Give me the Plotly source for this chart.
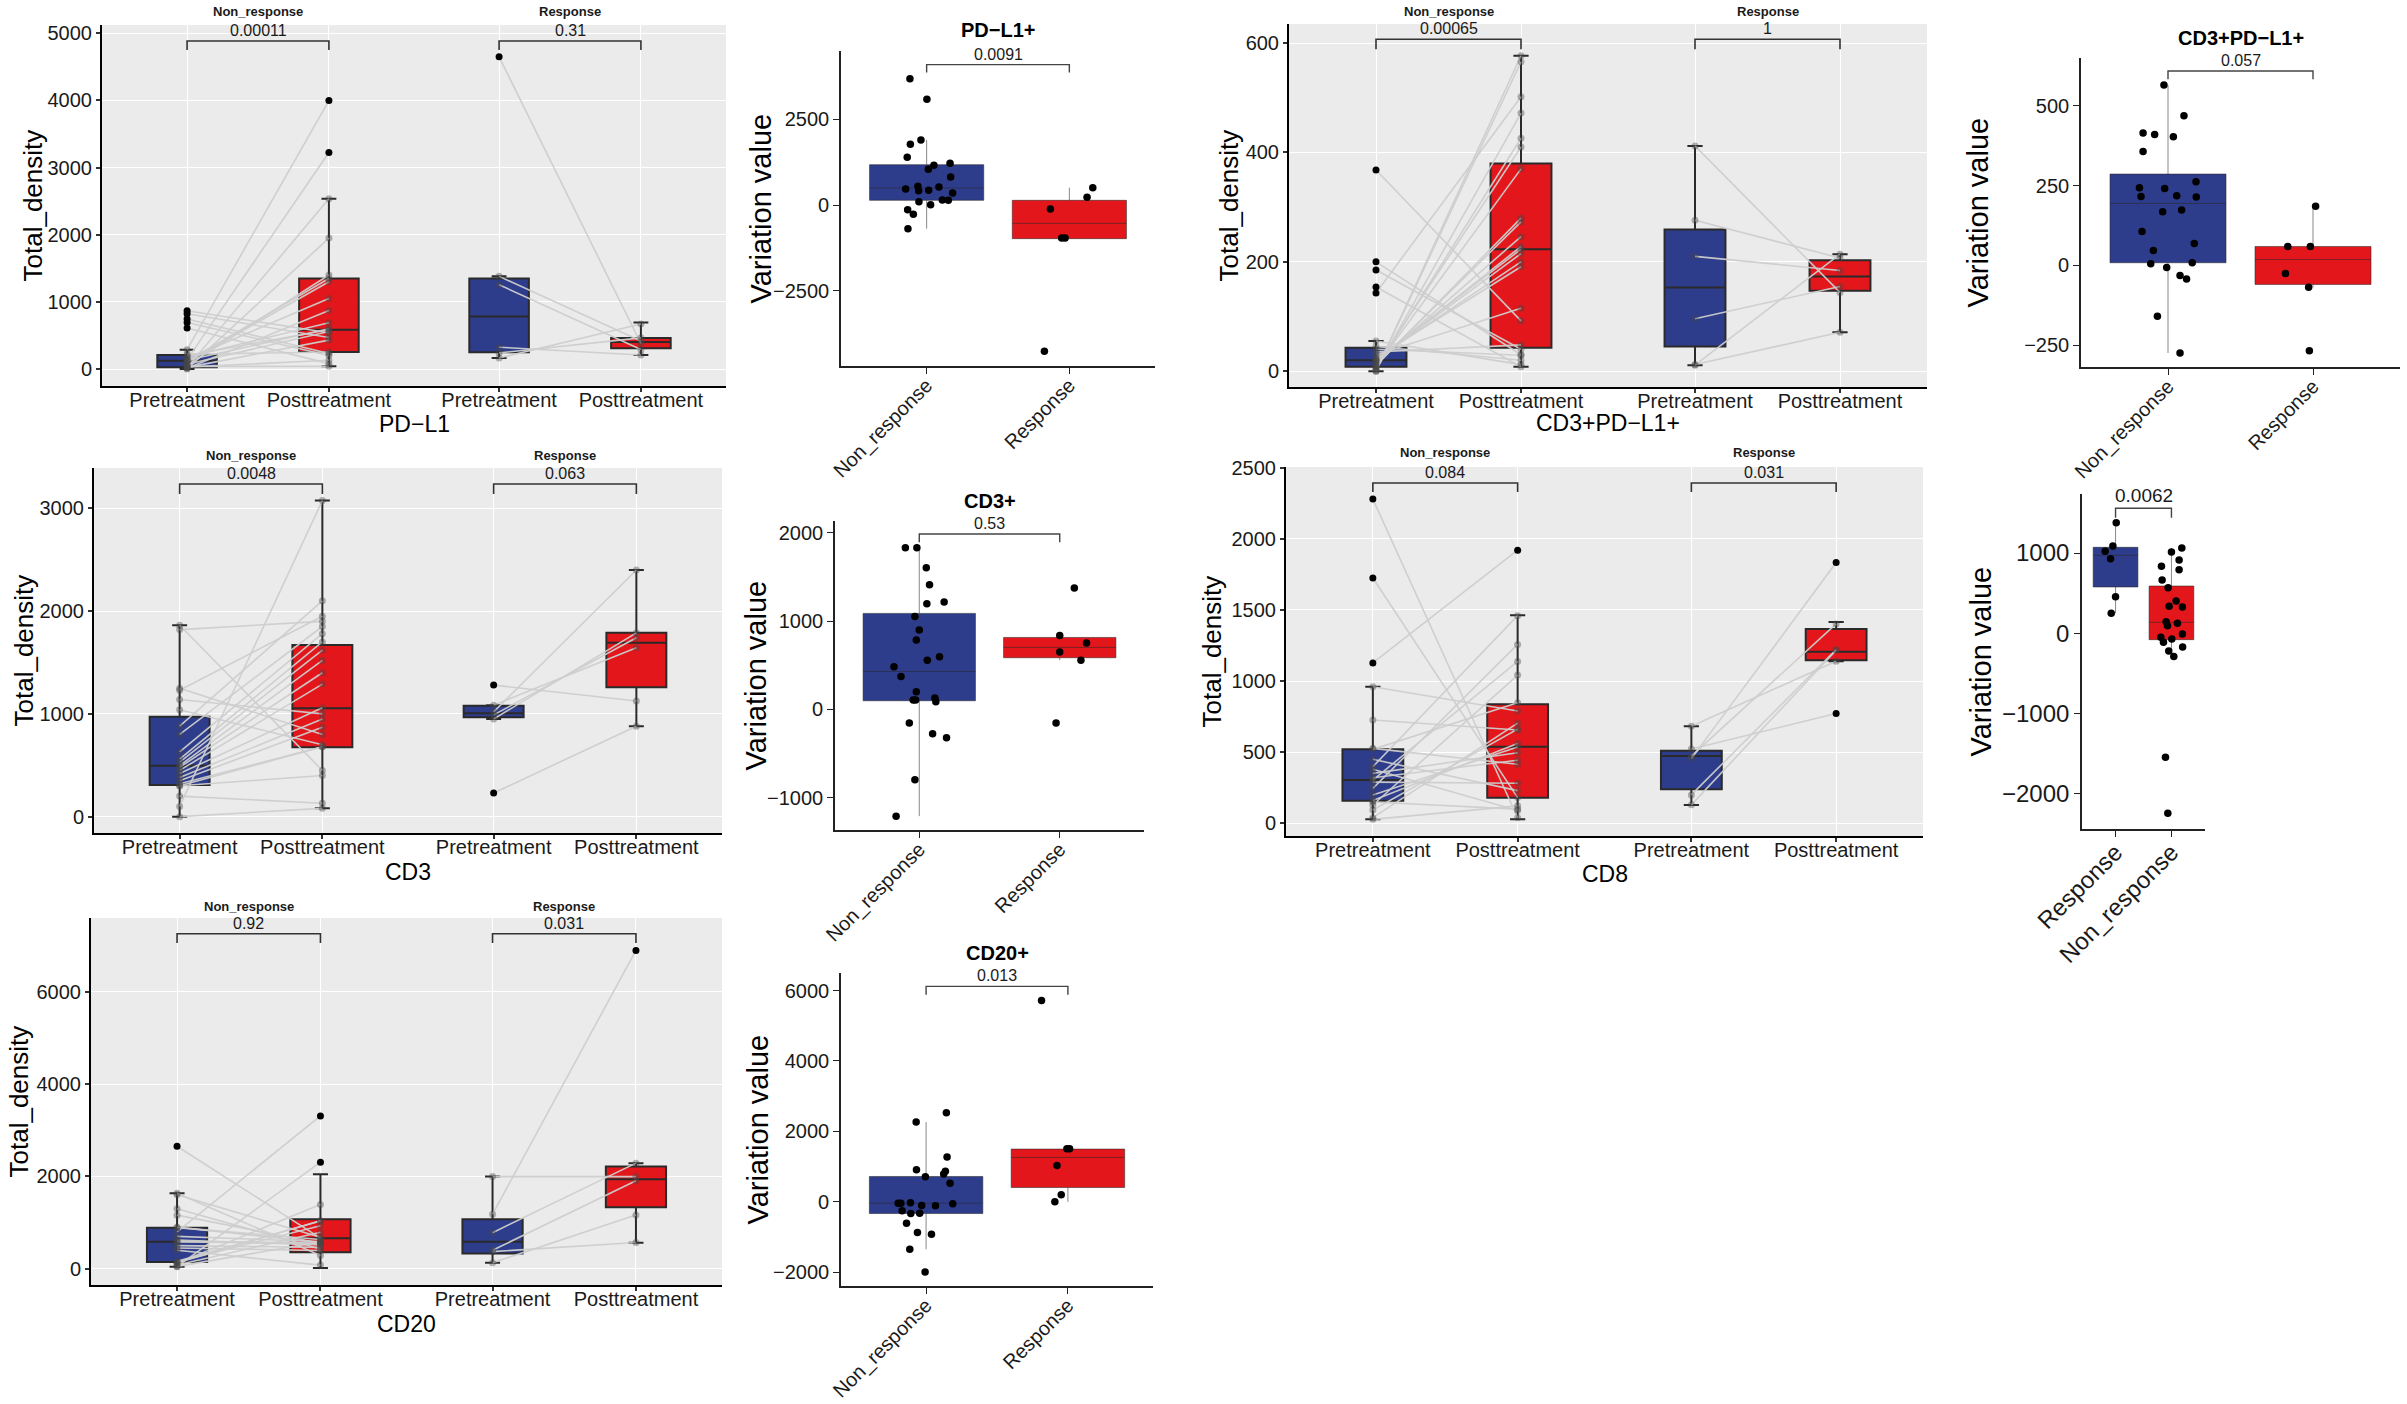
import plotly.graph_objects as go

W, H = 2407, 1404
BLUE = "#2E3C8C"
RED = "#E3171B"
FONT = "Liberation Sans, Arial, Helvetica, sans-serif"

# ------------------------------------------------------------------ data
timepoints = ["Pretreatment", "Posttreatment"]
facet_groups = ["Non_response", "Response"]
var_categories = ["Non_response", "Response"]
cd8_var_categories = ["Response", "Non_response"]

# PD-L1 paired (Total_density)
pdl1_nr_pre = [288, 140, 20, 0, 50, 115, 100, 150, 10, 180, 130, 200, 70, 868, 823, 25, 220, 744, 694, 30, 610, 40]
pdl1_nr_post = [3998, 3224, 2535, 1950, 1400, 1349, 1300, 1050, 870, 690, 600, 585, 560, 540, 470, 430, 253, 230, 200, 130, 80, 40]
pdl1_r_pre = [4650, 1380, 1255, 325, 240, 164]
pdl1_r_post = [380, 417, 292, 208, 464, 670]
# box stats: [lower whisker, q1, median, q3, upper whisker]
pdl1_nr_pre_box = [0, 25, 124, 208, 288]
pdl1_nr_post_box = [40, 253, 585, 1349, 2535]
pdl1_r_pre_box = [164, 248, 784, 1349, 1380]
pdl1_r_post_box = [208, 308, 402, 461, 694]
pdl1_pvals = ["0.00011", "0.31"]
pdl1_bracket = [4751, 4885]

# CD3+PD-L1+ paired
cd3pdl1_nr_pre = [368, 200, 185, 154, 143, 0, 0, 2, 5, 8, 8, 10, 12, 15, 18, 20, 20, 22, 25, 30, 35, 40, 45, 55]
cd3pdl1_nr_post = [92, 30, 40, 8, 502, 577, 566, 472, 426, 410, 370, 280, 273, 246, 228, 223, 215, 200, 191, 115, 48, 29, 20, 12]
cd3pdl1_r_pre = [412, 276, 210, 96, 11, 12]
cd3pdl1_r_post = [144, 207, 184, 155, 214, 71]
cd3pdl1_nr_pre_box = [0, 8, 20, 43, 55]
cd3pdl1_nr_post_box = [8, 43, 223, 380, 577]
cd3pdl1_r_pre_box = [11, 45, 153, 259, 412]
cd3pdl1_r_post_box = [71, 147, 173, 203, 214]
cd3pdl1_pvals = ["0.00065", "1"]
cd3pdl1_bracket = [589, 607]

# CD3 paired
cd3_nr_pre = [100, 1862, 1820, 1250, 1230, 1140, 1040, 880, 800, 630, 560, 530, 496, 480, 450, 420, 380, 350, 320, 300, 300, 200, 0]
cd3_nr_post = [3075, 450, 1900, 800, 1950, 1000, 700, 2100, 1850, 1780, 1700, 1620, 1520, 1400, 1290, 1060, 950, 870, 680, 680, 400, 130, 81]
cd3_r_pre = [1280, 230, 950, 990, 1020, 1085]
cd3_r_post = [1125, 880, 1788, 1741, 2400, 1643]
cd3_nr_pre_box = [0, 308, 496, 973, 1862]
cd3_nr_post_box = [81, 675, 1054, 1670, 3075]
cd3_r_pre_box = [950, 967, 1005, 1080, 1085]
cd3_r_post_box = [880, 1258, 1693, 1790, 2400]
cd3_pvals = ["0.0048", "0.063"]
cd3_bracket = [3139, 3236]

# CD8 paired
cd8_nr_pre = [2280, 1725, 1128, 960, 726, 398, 246, 129, 304, 40, 94, 160, 200, 520, 351, 320, 290, 150, 380, 450, 28, 527]
cd8_nr_post = [39, 181, 1920, 790, 656, 1460, 1258, 1042, 1138, 704, 662, 562, 536, 848, 496, 444, 282, 100, 90, 230, 123, 415]
cd8_r_pre = [455, 130, 523, 683, 473, 200]
cd8_r_post = [1833, 1217, 772, 1139, 1402, 1221]
cd8_nr_pre_box = [28, 159, 304, 520, 960]
cd8_nr_post_box = [28, 180, 538, 838, 1463]
cd8_r_pre_box = [129, 239, 473, 510, 683]
cd8_r_post_box = [1139, 1147, 1206, 1367, 1416]
cd8_pvals = ["0.084", "0.031"]
cd8_bracket = [2329, 2392]

# CD20 paired
cd20_nr_pre = [2653, 1633, 1600, 1300, 1160, 900, 889, 800, 700, 620, 585, 585, 500, 450, 400, 43, 120, 130, 160, 145, 80, 50]
cd20_nr_post = [662, 287, 681, 428, 553, 568, 633, 3310, 586, 516, 557, 547, 462, 393, 78, 2308, 1390, 1040, 1032, 932, 791, 581]
cd20_r_pre = [1180, 1995, 780, 400, 130, 370]
cd20_r_post = [6896, 1995, 2287, 1907, 1163, 569]
cd20_nr_pre_box = [43, 145, 585, 889, 1633]
cd20_nr_post_box = [14, 354, 658, 1070, 2046]
cd20_r_pre_box = [130, 332, 585, 1070, 1995]
cd20_r_post_box = [564, 1330, 1937, 2212, 2287]
cd20_pvals = ["0.92", "0.031"]
cd20_bracket = [7056, 7258]

# Variation values (post - pre) with jitter offsets
pdl1v_nr = [3687, 3084, 1897, 1770, 1391, 1216, 1158, 1041, 817, 525, 545, 467, 428, 418, 350, 146, 136, 97, 10, -136, -272, -691]
pdl1v_nr_jit = [-0.117, 0.002, -0.04, -0.114, -0.136, 0.164, 0.051, 0.012, 0.168, 0.086, -0.061, -0.147, 0.014, -0.056, 0.182, 0.11, 0.152, -0.054, 0.028, -0.133, -0.093, -0.131]
pdl1v_r = [506, 224, -117, -963, -963, -4270]
pdl1v_r_jit = [0.164, 0.124, -0.133, -0.054, -0.03, -0.175]
pdl1v_nr_box = [-691, 136, 496, 1177, 1897]
pdl1v_r_box = [-982, -982, -535, 136, 506]
pdl1v_pval = "0.0091"
pdl1v_bracket = [3863, 4097]

cd3pdl1v_nr = [565, 469, 415, 410, 403, 357, 262, 243, 241, 218, 216, 214, 173, 168, 106, 68, 46, 8, 5, -7, -32, -43, -160, -275]
cd3pdl1v_nr_jit = [-0.028, 0.11, -0.172, -0.092, 0.037, -0.172, 0.193, -0.197, -0.023, 0.06, -0.186, 0.195, 0.094, -0.037, -0.179, 0.181, -0.101, 0.167, -0.119, -0.009, 0.083, 0.128, -0.073, 0.083]
cd3pdl1v_r = [185, 59, 59, -26, -69, -268]
cd3pdl1v_r_jit = [0.018, -0.174, -0.018, -0.19, -0.03, -0.025]
cd3pdl1v_nr_box = [-275, 8, 194, 286, 565]
cd3pdl1v_r_box = [-69, -60, 18, 59, 185]
cd3pdl1v_pval = "0.057"
cd3pdl1v_bracket = [583, 609]

cd3v_nr = [1830, 1830, 1604, 1411, 1196, 1215, 1053, 898, 785, 596, 558, 483, 374, 200, 128, 106, 106, 87, -155, -275, -321, -796, -1208]
cd3v_nr_jit = [-0.099, -0.017, 0.05, 0.073, 0.054, 0.177, -0.031, 0.0, -0.021, 0.144, 0.057, -0.18, -0.13, -0.021, 0.111, -0.043, -0.026, 0.118, -0.071, 0.095, 0.194, -0.031, -0.165]
cd3v_r = [1374, 838, 751, 649, 558, -155]
cd3v_r_jit = [0.104, 0.0, 0.191, 0.0, 0.151, -0.026]
cd3v_nr_box = [-1208, 98, 430, 1087, 1830]
cd3v_r_box = [558, 585, 702, 815, 838]
cd3v_pval = "0.53"
cd3v_bracket = [1893, 1986]

cd8v_r = [1378, 1087, 1021, 929, 456, 249]
cd8v_r_jit = [0.012, -0.048, -0.185, -0.089, 0.0, -0.077]
cd8v_nr = [1062, 1012, 913, 834, 793, 664, 568, 402, 336, 328, 145, 124, 95, -8, -50, -71, -112, -170, -220, -290, -1544, -2241]
cd8v_nr_jit = [0.185, 0.0, 0.137, -0.179, 0.137, -0.167, -0.06, 0.083, -0.042, 0.196, -0.095, 0.107, -0.071, 0.196, -0.19, 0.006, -0.143, 0.2, -0.048, 0.042, -0.107, -0.065]
cd8v_r_box = [249, 577, 971, 1071, 1378]
cd8v_nr_box = [-290, -79, 137, 589, 1062]
cd8v_pval = "0.0062"
cd8v_bracket = [1440, 1557]

cd20v_nr = [2531, 2265, 1270, 910, 872, 787, 711, 531, -28, -38, -38, -57, -114, -104, -256, -322, -332, -607, -872, -919, -1346, -1991]
cd20v_nr_jit = [0.143, -0.07, 0.148, -0.068, 0.136, 0.124, -0.005, 0.169, -0.11, -0.197, -0.178, 0.188, 0.066, -0.031, -0.169, -0.045, -0.108, -0.138, -0.061, 0.038, -0.115, -0.007]
cd20v_r = [5716, 1507, 1507, 1033, 199, 0]
cd20v_r_jit = [-0.186, -0.007, 0.012, -0.077, -0.047, -0.092]
cd20v_nr_box = [-1346, -332, -38, 720, 2265]
cd20v_r_box = [0, 408, 1261, 1498, 1507]
cd20v_pval = "0.013"
cd20v_bracket = [5880, 6117]

# ------------------------------------------------------------------ helpers
fig = go.Figure()
axes = {}
annotations = []
shapes = []
line_traces = []
point_traces = []


def dom_x(a, b):
    return [a / W, b / W]


def dom_y(top, bottom):
    return [1 - bottom / H, 1 - top / H]


def axnames(n):
    s = "" if n == 1 else str(n)
    return "x" + s, "y" + s, "xaxis" + s, "yaxis" + s


PAIR_POS = [1.0, 2.0, 3.2, 4.2]


def add_paired(n, series, boxes, pvals, bracket, xd, yd, yrange, yticks,
               xtitle, xtitle_py, ytitle_px, facet_py):
    xr, yr, xk, yk = axnames(n)
    shapes.append(dict(type="rect", xref=f"{xr} domain", yref=f"{yr} domain",
                       x0=0, x1=1, y0=0, y1=1, fillcolor="#EBEBEB",
                       line=dict(width=0), layer="below"))
    for k in range(4):
        st = boxes[k]
        fig.add_trace(go.Box(x=[PAIR_POS[k]], lowerfence=[st[0]], q1=[st[1]],
                             median=[st[2]], q3=[st[3]], upperfence=[st[4]],
                             width=0.42, whiskerwidth=0.25,
                             fillcolor=BLUE if k % 2 == 0 else RED,
                             line=dict(color="#2a2a2a", width=2),
                             boxpoints=False, xaxis=xr, yaxis=yr,
                             showlegend=False, hoverinfo="skip"))
    for g in range(2):
        pre, post = series[2 * g], series[2 * g + 1]
        lx, ly = [], []
        for a, b in zip(pre, post):
            lx += [PAIR_POS[2 * g], PAIR_POS[2 * g + 1], None]
            ly += [a, b, None]
        line_traces.append(go.Scatter(x=lx, y=ly, mode="lines",
                                      line=dict(color="rgba(205,205,205,0.95)", width=1.6),
                                      xaxis=xr, yaxis=yr, showlegend=False,
                                      hoverinfo="skip"))
    for k in range(4):
        vals, st = series[k], boxes[k]
        cols = ["#000000" if (v > st[4] or v < st[0]) else "rgba(70,70,70,0.4)"
                for v in vals]
        point_traces.append(go.Scatter(x=[PAIR_POS[k]] * len(vals), y=vals,
                                       mode="markers",
                                       marker=dict(color=cols, size=7, line=dict(width=0)),
                                       xaxis=xr, yaxis=yr, showlegend=False,
                                       hoverinfo="skip"))
    axes[xk] = dict(domain=dom_x(*xd), anchor=yr, range=[0.4, 4.8], automargin=False,
                    tickmode="array", tickvals=PAIR_POS, ticktext=timepoints * 2,
                    showgrid=True, gridcolor="white", gridwidth=1.3, zeroline=False,
                    showline=True, linecolor="black", linewidth=2,
                    ticks="outside", ticklen=4, tickwidth=1.5, tickcolor="#333",
                    ticklabelstandoff=-9,
                    tickfont=dict(size=20, color="#1a1a1a", family=FONT))
    axes[yk] = dict(domain=dom_y(*yd), anchor=xr, range=yrange, automargin=False,
                    tickmode="array", tickvals=yticks,
                    ticktext=[str(v) for v in yticks],
                    showgrid=True, gridcolor="white", gridwidth=1.3, zeroline=False,
                    showline=True, linecolor="black", linewidth=2,
                    ticks="outside", ticklen=4, tickwidth=1.5, tickcolor="#333",
                    tickfont=dict(size=20, color="#1a1a1a", family=FONT))
    for g in range(2):
        x0, x1 = PAIR_POS[2 * g], PAIR_POS[2 * g + 1]
        shapes.append(dict(type="path", xref=xr, yref=yr,
                           path=f"M {x0},{bracket[0]} L {x0},{bracket[1]} L {x1},{bracket[1]} L {x1},{bracket[0]}",
                           line=dict(color="#333", width=1.6)))
        annotations.append(dict(xref=xr, yref=yr, x=(x0 + x1) / 2, y=bracket[1],
                                text=pvals[g], showarrow=False, xanchor="center",
                                yanchor="bottom",
                                font=dict(size=16, color="#1a1a1a", family=FONT)))
        annotations.append(dict(xref=xr, yref="paper", x=(x0 + x1) / 2,
                                y=1 - facet_py / H, text=f"<b>{facet_groups[g]}</b>",
                                showarrow=False, xanchor="center", yanchor="middle",
                                font=dict(size=13, color="#1a1a1a", family=FONT)))
    annotations.append(dict(xref="paper", yref="paper", x=(xd[0] + xd[1]) / 2 / W,
                            y=1 - xtitle_py / H, text=xtitle, showarrow=False,
                            xanchor="center", yanchor="middle",
                            font=dict(size=23, color="black", family=FONT)))
    annotations.append(dict(xref="paper", yref="paper", x=ytitle_px / W,
                            y=1 - (yd[0] + yd[1]) / 2 / H, text="Total_density",
                            textangle=-90, showarrow=False, xanchor="center",
                            yanchor="middle", font=dict(size=26, color="black", family=FONT)))


def add_var(n, cats, va, ja, vb, jb, box_a, box_b, pval, bracket, xd, yd,
            yrange, yticks, title, title_py, ytitle_px, fs=20, pfs=16):
    xr, yr, xk, yk = axnames(n)
    for k, st in enumerate([box_a, box_b]):
        fig.add_trace(go.Box(x=[k], lowerfence=[st[0]], q1=[st[1]], median=[st[2]],
                             q3=[st[3]], upperfence=[st[4]], width=0.8, whiskerwidth=0,
                             fillcolor=BLUE if k == 0 else RED,
                             line=dict(color="rgba(40,40,40,0.55)", width=1),
                             boxpoints=False, xaxis=xr, yaxis=yr,
                             showlegend=False, hoverinfo="skip"))
    for k, (vals, jit) in enumerate([(va, ja), (vb, jb)]):
        point_traces.append(go.Scatter(x=[k + j for j in jit], y=vals, mode="markers",
                                       marker=dict(color="black", size=7.5, line=dict(width=0)),
                                       xaxis=xr, yaxis=yr, showlegend=False,
                                       hoverinfo="skip"))
    axes[xk] = dict(domain=dom_x(*xd), anchor=yr, range=[-0.6, 1.6], automargin=False,
                    tickmode="array", tickvals=[0, 1], ticktext=cats, tickangle=-45,
                    showgrid=False, zeroline=False, showline=True, linecolor="#222",
                    linewidth=1.6, ticks="outside", ticklen=6, tickwidth=1.4,
                    tickcolor="#222", ticklabelstandoff=-8,
                    tickfont=dict(size=fs, color="#1a1a1a", family=FONT))
    axes[yk] = dict(domain=dom_y(*yd), anchor=xr, range=yrange, automargin=False,
                    tickmode="array", tickvals=yticks,
                    ticktext=[str(v).replace("-", "\u2212") for v in yticks],
                    showgrid=False, zeroline=False, showline=True, linecolor="#222",
                    linewidth=1.6, ticks="outside", ticklen=6, tickwidth=1.4,
                    tickcolor="#222", tickfont=dict(size=fs, color="#1a1a1a", family=FONT))
    shapes.append(dict(type="path", xref=xr, yref=yr,
                       path=f"M 0,{bracket[0]} L 0,{bracket[1]} L 1,{bracket[1]} L 1,{bracket[0]}",
                       line=dict(color="#444", width=1.4)))
    annotations.append(dict(xref=xr, yref=yr, x=0.5, y=bracket[1], text=pval,
                            showarrow=False, xanchor="center", yanchor="bottom",
                            font=dict(size=pfs, color="#1a1a1a", family=FONT)))
    if title:
        annotations.append(dict(xref="paper", yref="paper", x=(xd[0] + xd[1]) / 2 / W,
                                y=1 - title_py / H, text=f"<b>{title}</b>",
                                showarrow=False, xanchor="center", yanchor="middle",
                                font=dict(size=20, color="black", family=FONT)))
    annotations.append(dict(xref="paper", yref="paper", x=ytitle_px / W,
                            y=1 - (yd[0] + yd[1]) / 2 / H, text="Variation value",
                            textangle=-90, showarrow=False, xanchor="center",
                            yanchor="middle", font=dict(size=29, color="black", family=FONT)))


# ------------------------------------------------------------------ panels
add_paired(1, [pdl1_nr_pre, pdl1_nr_post, pdl1_r_pre, pdl1_r_post],
           [pdl1_nr_pre_box, pdl1_nr_post_box, pdl1_r_pre_box, pdl1_r_post_box],
           pdl1_pvals, pdl1_bracket, (102, 726), (25, 386), [-253, 5124],
           [0, 1000, 2000, 3000, 4000, 5000], "PD\u2212L1", 424, 32, 12)
add_var(2, var_categories, pdl1v_nr, pdl1v_nr_jit, pdl1v_r, pdl1v_r_jit,
        pdl1v_nr_box, pdl1v_r_box, pdl1v_pval, pdl1v_bracket, (841, 1155), (51, 366),
        [-4698, 4494], [-2500, 0, 2500], "PD\u2212L1+", 30, 760)
add_paired(3, [cd3pdl1_nr_pre, cd3pdl1_nr_post, cd3pdl1_r_pre, cd3pdl1_r_post],
           [cd3pdl1_nr_pre_box, cd3pdl1_nr_post_box, cd3pdl1_r_pre_box, cd3pdl1_r_post_box],
           cd3pdl1_pvals, cd3pdl1_bracket, (1289, 1927), (24, 387), [-29, 635],
           [0, 200, 400, 600], "CD3+PD\u2212L1+", 423, 1228, 12)
add_var(4, var_categories, cd3pdl1v_nr, cd3pdl1v_nr_jit, cd3pdl1v_r, cd3pdl1v_r_jit,
        cd3pdl1v_nr_box, cd3pdl1v_r_box, cd3pdl1v_pval, cd3pdl1v_bracket,
        (2081, 2400), (58, 367), [-319, 650], [-250, 0, 250, 500],
        "CD3+PD\u2212L1+", 38, 1978)
add_paired(5, [cd3_nr_pre, cd3_nr_post, cd3_r_pre, cd3_r_post],
           [cd3_nr_pre_box, cd3_nr_post_box, cd3_r_pre_box, cd3_r_post_box],
           cd3_pvals, cd3_bracket, (94, 722), (468, 833), [-159, 3392],
           [0, 1000, 2000, 3000], "CD3", 872, 23, 456)
add_var(6, var_categories, cd3v_nr, cd3v_nr_jit, cd3v_r, cd3v_r_jit,
        cd3v_nr_box, cd3v_r_box, cd3v_pval, cd3v_bracket, (835, 1144), (521, 830),
        [-1365, 2133], [-1000, 0, 1000, 2000], "CD3+", 501, 755)
add_paired(7, [cd8_nr_pre, cd8_nr_post, cd8_r_pre, cd8_r_post],
           [cd8_nr_pre_box, cd8_nr_post_box, cd8_r_pre_box, cd8_r_post_box],
           cd8_pvals, cd8_bracket, (1286, 1923), (467, 836), [-89, 2505],
           [0, 500, 1000, 1500, 2000, 2500], "CD8", 874, 1211, 453)
add_var(8, cd8_var_categories, cd8v_r, cd8v_r_jit, cd8v_nr, cd8v_nr_jit,
        cd8v_r_box, cd8v_nr_box, cd8v_pval, cd8v_bracket, (2082, 2205), (494, 829),
        [-2437, 1735], [-2000, -1000, 0, 1000], None, 0, 1980, fs=24, pfs=19)
add_paired(9, [cd20_nr_pre, cd20_nr_post, cd20_r_pre, cd20_r_post],
           [cd20_nr_pre_box, cd20_nr_post_box, cd20_r_pre_box, cd20_r_post_box],
           cd20_pvals, cd20_bracket, (91, 722), (918, 1285), [-353, 7598],
           [0, 2000, 4000, 6000], "CD20", 1324, 18, 906)
add_var(10, var_categories, cd20v_nr, cd20v_nr_jit, cd20v_r, cd20v_r_jit,
        cd20v_nr_box, cd20v_r_box, cd20v_pval, cd20v_bracket, (841, 1153), (973, 1286),
        [-2390, 6498], [-2000, 0, 2000, 4000, 6000], "CD20+", 953, 757)

for t in line_traces:
    fig.add_trace(t)
for t in point_traces:
    fig.add_trace(t)

fig.update_layout(width=W, height=H,
                  margin=dict(l=0, r=0, t=0, b=0, pad=0, autoexpand=False),
                  paper_bgcolor="white", plot_bgcolor="rgba(0,0,0,0)",
                  showlegend=False, boxmode="overlay",
                  font=dict(family=FONT, color="black"),
                  annotations=annotations, shapes=shapes, **axes)

fig.write_html("out.html", config={"displayModeBar": False},
               post_script="document.body.style.margin='0';document.body.style.overflow='hidden';")
